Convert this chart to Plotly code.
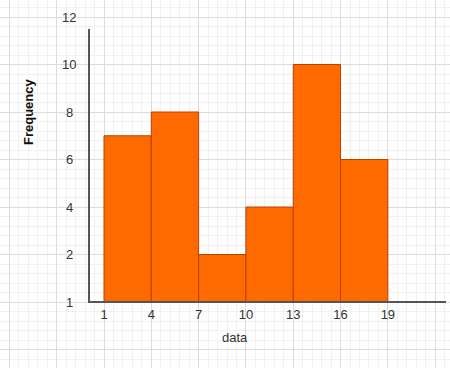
import plotly.graph_objects as go

# Data
bin_starts = [1, 4, 7, 10, 13, 16]
bin_width = 3
frequency = [7, 8, 2, 4, 10, 6]
x_tick_vals = [1, 4, 7, 10, 13, 16, 19]
x_tick_text = ["1", "4", "7", "10", "13", "16", "19"]
y_tick_vals = [0, 2, 4, 6, 8, 10, 12]
y_tick_text = ["1", "2", "4", "6", "8", "10", "12"]

W, H = 450, 368
font_family = "Liberation Sans, Arial, sans-serif"
txt_color = "#333333"

fig = go.Figure()
fig.add_trace(go.Bar(
    x=bin_starts, y=frequency, width=[bin_width] * len(bin_starts), offset=0,
    marker=dict(color="#FF6A00", line=dict(color="#B84300", width=1)),
    xaxis="x", yaxis="y", showlegend=False, hoverinfo="skip",
))

x_range = [-5.595, 22.94]
y_range = [-2.779, 12.716]

fig.update_layout(
    width=W, height=H,
    margin=dict(l=0, r=0, t=0, b=0),
    paper_bgcolor="white", plot_bgcolor="white",
    font=dict(family=font_family, size=13, color=txt_color),
    xaxis=dict(
        domain=[0, 1], range=x_range, showline=False, zeroline=False,
        showticklabels=False, ticks="",
        tickmode="linear", tick0=1, dtick=3,
        showgrid=True, gridcolor="#dcdcdc", gridwidth=1,
        minor=dict(tickmode="linear", tick0=1, dtick=0.6, showgrid=True,
                   gridcolor="#f1f1f1", gridwidth=1),
    ),
    yaxis=dict(
        domain=[0, 1], range=y_range, showline=False, zeroline=False,
        showticklabels=False, ticks="",
        tickmode="linear", tick0=0, dtick=2,
        showgrid=True, gridcolor="#dcdcdc", gridwidth=1,
        minor=dict(tickmode="linear", tick0=0, dtick=0.4, showgrid=True,
                   gridcolor="#f1f1f1", gridwidth=1),
    ),
    xaxis2=dict(
        overlaying="x", anchor="free", position=(H - 302) / H, side="bottom",
        range=x_range, showgrid=False, zeroline=False, showline=False,
        tickmode="array", tickvals=x_tick_vals, ticktext=x_tick_text,
        ticks="", ticklabelstandoff=3,
        tickfont=dict(family=font_family, size=13, color=txt_color),
    ),
    bargap=0,
)

# dummy trace to activate xaxis2
fig.add_trace(go.Scatter(x=[None], y=[None], xaxis="x2", yaxis="y",
                         showlegend=False, hoverinfo="skip"))

# Axis lines
axis_col = "#555555"
fig.add_shape(type="line", xref="paper", yref="paper",
              x0=89 / W, x1=89 / W, y0=(H - 303) / H, y1=(H - 29) / H,
              line=dict(color=axis_col, width=2))
fig.add_shape(type="line", xref="paper", yref="paper",
              x0=88 / W, x1=446 / W, y0=(H - 302) / H, y1=(H - 302) / H,
              line=dict(color=axis_col, width=2))

# Y tick labels
for v, t in zip(y_tick_vals, y_tick_text):
    fig.add_annotation(x=69 / W, xref="paper", y=v, yref="y", text=t,
                       showarrow=False, xanchor="center", yanchor="middle",
                       font=dict(family=font_family, size=13, color=txt_color))

# Axis titles
fig.add_annotation(x=28 / W, y=1 - 112 / H, xref="paper", yref="paper",
                   text="<b>Frequency</b>", textangle=-90, showarrow=False,
                   xanchor="center", yanchor="middle",
                   font=dict(family=font_family, size=13, color="#111111"))
fig.add_annotation(x=235 / W, y=1 - 337 / H, xref="paper", yref="paper",
                   text="data", showarrow=False, xanchor="center", yanchor="middle",
                   font=dict(family=font_family, size=13, color=txt_color))

fig.write_html(
    "out.html",
    config={"displayModeBar": False, "staticPlot": True},
    post_script="document.body.style.margin='0';document.body.style.overflow='hidden';",
)
